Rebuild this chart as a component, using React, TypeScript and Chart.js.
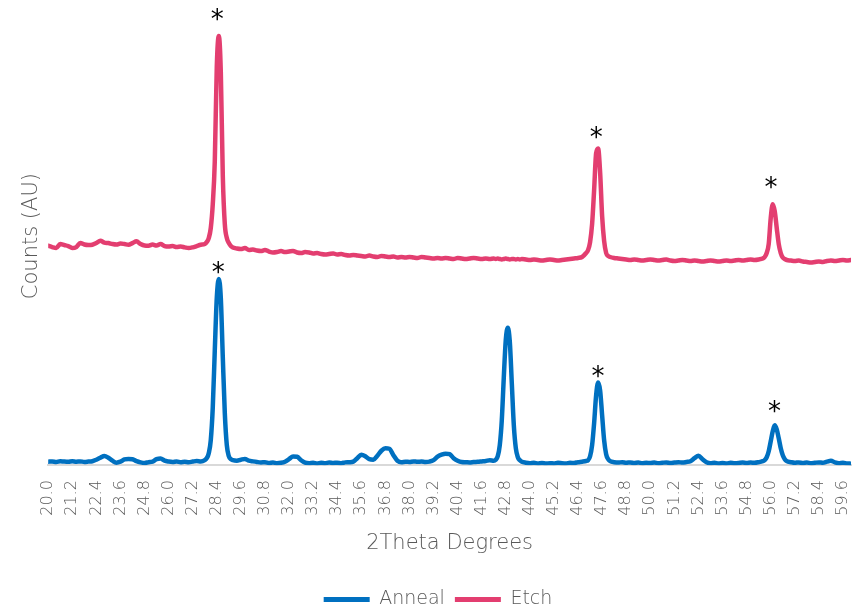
import React, { useEffect, useRef } from "react";
import { Chart, registerables } from "chart.js";

Chart.register(...registerables);

// 2Theta angles (degrees) shared by both scans
const angles: number[] = [
  20.0, 20.2, 20.4, 20.6, 20.8, 21.0, 21.2, 21.4, 21.6, 21.8,
  22.0, 22.2, 22.4, 22.6, 22.8, 23.0, 23.2, 23.4, 23.6, 23.8,
  24.0, 24.2, 24.4, 24.6, 24.8, 25.0, 25.2, 25.4, 25.6, 25.8,
  26.0, 26.2, 26.4, 26.6, 26.8, 27.0, 27.2, 27.4, 27.6, 27.8,
  27.9, 28.0, 28.1, 28.2, 28.3, 28.4, 28.5, 28.6, 28.7, 28.8, 28.9, 29.0, 29.1,
  29.2, 29.4, 29.6, 29.8, 30.0, 30.2, 30.4, 30.6, 30.8, 31.0,
  31.2, 31.4, 31.6, 31.8, 32.0, 32.2, 32.4, 32.6, 32.8, 33.0,
  33.2, 33.4, 33.6, 33.8, 34.0, 34.2, 34.4, 34.6, 34.8, 35.0,
  35.2, 35.4, 35.6, 35.8, 36.0, 36.2, 36.4, 36.6, 36.8, 37.0,
  37.2, 37.4, 37.6, 37.8, 38.0, 38.2, 38.4, 38.6, 38.8, 39.0,
  39.2, 39.4, 39.6, 39.8, 40.0, 40.2, 40.4, 40.6, 40.8, 41.0,
  41.2, 41.4, 41.6, 41.8, 42.0, 42.2,
  42.3, 42.4, 42.5, 42.6, 42.7, 42.8, 42.9, 43.0, 43.1, 43.2, 43.3, 43.4, 43.5,
  43.6, 43.8, 44.0, 44.2, 44.4, 44.6, 44.8, 45.0, 45.2, 45.4,
  45.6, 45.8, 46.0, 46.2, 46.4, 46.6, 46.8,
  46.9, 47.0, 47.1, 47.2, 47.3, 47.4, 47.5, 47.6, 47.7, 47.8, 47.9,
  48.0, 48.2, 48.4, 48.6, 48.8, 49.0, 49.2, 49.4, 49.6, 49.8,
  50.0, 50.2, 50.4, 50.6, 50.8, 51.0, 51.2, 51.4, 51.6, 51.8,
  52.0, 52.2, 52.4, 52.6, 52.8, 53.0, 53.2, 53.4, 53.6, 53.8,
  54.0, 54.2, 54.4, 54.6, 54.8, 55.0, 55.2, 55.4, 55.6,
  55.7, 55.8, 55.9, 56.0, 56.1, 56.2, 56.3, 56.4, 56.5, 56.6, 56.7, 56.8,
  57.0, 57.2, 57.4, 57.6, 57.8, 58.0, 58.2, 58.4, 58.6, 58.8,
  59.0, 59.2, 59.4, 59.6, 59.8, 60.0,
];

const anneal: number[] = [
  3.5, 3.8, 3.2, 4.0, 3.6, 3.4, 4.0, 3.5, 3.8, 3.3,
  3.6, 4.0, 5.5, 7.5, 9.3, 7.5, 4.5, 2.5, 3.5, 5.8,
  6.3, 6.0, 4.0, 2.8, 2.2, 3.0, 3.6, 6.0, 6.8, 4.5,
  3.6, 3.2, 3.8, 3.0, 3.4, 3.0, 3.6, 4.2, 3.8, 5.0,
  7, 12, 25, 58, 115, 168, 187, 168, 108, 52, 20, 9, 6,
  5.0, 4.5, 5.5, 6.3, 4.5, 3.8, 3.2, 2.8, 3.0, 2.2,
  2.6, 2.0, 2.4, 3.5, 6.0, 8.8, 8.5, 5.0, 2.6, 2.0,
  2.4, 1.8, 2.4, 2.0, 2.6, 2.2, 2.5, 2.0, 2.8, 3.0,
  3.6, 7.0, 10.5, 9.0, 6.0, 5.5, 9.5, 14.5, 17.0, 16.5,
  10.0, 4.5, 3.0, 3.5, 3.2, 3.8, 3.4, 3.6, 3.2, 3.6,
  5.0, 8.5, 10.5, 11.5, 11.0, 7.0, 4.5, 3.2, 3.0, 2.8,
  3.2, 3.4, 3.8, 4.2, 5.0, 4.5,
  5.5, 9, 20, 45, 88, 126, 138, 124, 82, 40, 17, 8, 5,
  3.5, 2.5, 2.0, 2.4, 1.8, 2.2, 1.6, 2.0, 1.8, 2.4,
  2.0, 1.8, 2.4, 2.2, 3.0, 3.5, 4.2,
  5, 9, 20, 42, 70, 83, 75, 50, 25, 11, 6,
  4.0, 3.0, 2.6, 3.0, 2.4, 2.8, 2.2, 2.6, 2.0, 2.4,
  2.2, 2.6, 2.0, 2.4, 2.8, 2.2, 2.6, 3.0, 2.6, 3.2,
  4.0, 7.0, 9.5, 6.0, 3.0, 2.0, 2.4, 1.8, 2.2, 1.8,
  2.4, 2.0, 2.2, 2.6, 2.2, 2.6, 2.4, 3.0, 4.0,
  5, 8, 14, 24, 34, 40, 36, 27, 17, 10, 6, 4,
  3.0, 2.4, 2.8, 2.2, 2.6, 2.0, 2.4, 2.8, 2.4, 3.5,
  4.5, 2.8, 2.0, 2.4, 1.8, 1.5,
];

const etch: number[] = [
  220.3, 219, 218, 222, 221, 220, 218, 219, 223, 221.5,
  221, 221.3, 223, 225.3, 223.5, 223, 222, 221.5, 222.5, 222,
  221.3, 223, 224.7, 222, 220.5, 220.3, 221.5, 220.5, 222, 220,
  219.5, 220, 219, 219.5, 218.7, 218, 218.7, 220, 221.3, 222,
  224, 228, 238, 262, 305, 400, 431, 395, 290, 242, 228, 223, 220,
  218.5, 217.5, 217, 218, 216, 216.5, 215.5, 215, 216, 214.5,
  213.5, 214, 215, 214, 214.5, 215, 213.5, 213, 214, 213.5,
  212.5, 213, 212, 211.5, 212, 212.5, 211.5, 212, 211, 210.5,
  211, 210.5, 210, 209.5, 210.5, 209.5, 209, 210, 209.5, 209,
  209.5, 208.5, 209, 208.5, 209, 208.5, 208, 209, 208.5, 208,
  207.5, 208, 207.5, 208, 207.5, 207, 208, 207.5, 207, 207.5,
  208, 207.5, 207, 207.5, 207, 207.5,
  207, 207.5, 207, 206.5, 207, 207.5, 207, 206.5, 207, 207, 206.5, 207, 206.5,
  207, 206.5, 206, 206.5, 206, 205.5, 206, 206.5, 206, 205.5,
  206, 206.5, 207, 207.5, 208, 209, 213,
  216, 224, 242, 276, 313, 318, 294, 250, 225, 213, 210,
  209, 208, 207.5, 207, 206.5, 206, 206.5, 206, 205.5, 206,
  206.5, 206, 205.5, 206, 206.5, 205.5, 205, 205.5, 206, 205.5,
  205, 205.5, 205, 204.5, 205, 205.5, 205, 204.5, 205, 205.5,
  205, 205.5, 206, 205.5, 206, 206.5, 206, 206.5, 207.5,
  209, 213, 222, 248, 262, 255, 238, 222, 213, 208.5, 207, 206,
  205.5, 205, 205.5, 204.5, 204, 203.5, 204, 204.5, 204, 205,
  205.5, 205, 205.5, 206, 205.5, 206,
];

const tickLabels: string[] = [
  "20.0", "21.2", "22.4", "23.6", "24.8", "26.0", "27.2", "28.4", "29.6",
  "30.8", "32.0", "33.2", "34.4", "35.6", "36.8", "38.0", "39.2", "40.4",
  "41.6", "42.8", "44.0", "45.2", "46.4", "47.6", "48.8", "50.0", "51.2",
  "52.4", "53.6", "54.8", "56.0", "57.2", "58.4", "59.6",
];

// peak markers (*)
const starAngles: number[] = [28.42, 47.31, 56.02, 28.47, 47.39, 56.19];
const starCounts: number[] = [452, 334, 284, 198, 94, 59];

const seriesNames = ["Anneal", "Etch"];
const seriesColors = ["#0070C0", "#E33E70"];

const FONT = "'DejaVu Sans', sans-serif";
const GREY = "#595959";
const WEIGHT = 300;

const starPlugin = {
  id: "stars",
  afterDatasetsDraw(chart: any) {
    const { ctx, scales } = chart;
    ctx.save();
    ctx.font = `26px ${FONT}`;
    ctx.fillStyle = "#000000";
    ctx.textAlign = "center";
    ctx.textBaseline = "alphabetic";
    starAngles.forEach((a, i) => {
      const x = scales.x.getPixelForValue(a);
      const y = scales.y.getPixelForValue(starCounts[i]);
      const m = ctx.measureText("*");
      const asc = m.actualBoundingBoxAscent || 0;
      const desc = m.actualBoundingBoxDescent || 0;
      ctx.fillText("*", x, y + (asc - desc) / 2);
    });
    ctx.restore();
  },
};

export default function App() {
  const ref = useRef<HTMLCanvasElement>(null);
  useEffect(() => {
    if (!ref.current) return;
    const series = [anneal, etch];
    const chart = new Chart(ref.current, {
      type: "line",
      data: {
        datasets: series.map((vals, s) => ({
          label: seriesNames[s],
          data: angles.map((x, i) => ({ x, y: vals[i] })),
          borderColor: seriesColors[s],
          backgroundColor: seriesColors[s],
          borderWidth: 4.5,
          pointRadius: 0,
          cubicInterpolationMode: "monotone" as const,
          borderJoinStyle: "round" as const,
          borderCapStyle: "round" as const,
        })),
      },
      options: {
        animation: false,
        responsive: true,
        maintainAspectRatio: false,
        layout: { padding: { top: 7, left: 15, right: 0, bottom: -8 } },
        scales: {
          x: {
            type: "linear",
            min: 20,
            max: 60,
            afterBuildTicks: (axis: any) => {
              axis.ticks = tickLabels.map((t) => ({ value: parseFloat(t) }));
            },
            afterFit: (axis: any) => {
              axis.paddingRight = 10;
            },
            grid: { display: false, drawTicks: false },
            border: { display: true, color: "#D9D9D9", width: 2 },
            ticks: {
              autoSkip: false,
              minRotation: 90,
              maxRotation: 90,
              padding: 15,
              color: GREY,
              font: { family: FONT, size: 16, weight: WEIGHT },
              callback: (v: any) => Number(v).toFixed(1),
            },
            title: {
              display: true,
              text: "2Theta Degrees",
              color: GREY,
              font: { family: FONT, size: 21, weight: WEIGHT },
              padding: { top: 0, bottom: 24 },
            },
          },
          y: {
            min: 0,
            max: 460,
            grid: { display: false, drawTicks: false },
            border: { display: false },
            ticks: { display: false },
            title: {
              display: true,
              text: "Counts (AU)",
              color: GREY,
              font: { family: FONT, size: 21, weight: WEIGHT },
              padding: { top: 4, bottom: 4 },
            },
          },
        },
        plugins: {
          legend: {
            position: "bottom",
            labels: {
              boxWidth: 46,
              boxHeight: 5,
              padding: 10,
              color: GREY,
              font: { family: FONT, size: 19, weight: WEIGHT },
              generateLabels: (c: any) =>
                Chart.defaults.plugins.legend.labels
                  .generateLabels(c)
                  .map((l: any) => ({ ...l, lineWidth: 0 })),
            },
          },
          tooltip: { enabled: false },
        },
      },
      plugins: [starPlugin],
    });
    return () => chart.destroy();
  }, []);
  return (
    <div style={{ position: "fixed", left: 0, top: 0, width: 861, height: 611, background: "#fff" }}>
      <canvas ref={ref} />
    </div>
  );
}
